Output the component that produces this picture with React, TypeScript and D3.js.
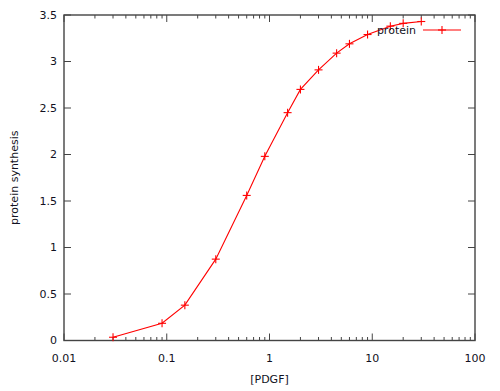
import React from "react";
import * as d3 from "d3";

// concentration of PDGF and measured protein synthesis
const pdgf = [0.03, 0.09, 0.15, 0.3, 0.6, 0.9, 1.5, 2, 3, 4.5, 6, 9, 15, 20, 30];
const protein = [0.035, 0.185, 0.38, 0.875, 1.56, 1.98, 2.45, 2.7, 2.91, 3.09, 3.19, 3.29, 3.38, 3.41, 3.43];
const xTickLabels = ["0.01", "0.1", "1", "10", "100"];
const yTickValues = [0, 0.5, 1, 1.5, 2, 2.5, 3, 3.5];

export default function App() {
	const width = 500;
	const height = 391;
	const marginLeft = 64;
	const marginRight = 25;
	const marginTop = 15;
	const marginBottom = 50.5;
	const font = "'DejaVu Sans', Verdana, sans-serif";
	const axisColor = "#444";
	const textColor = "#111122";

	const x = d3
		.scaleLog()
		.domain([0.01, 100])
		.range([marginLeft, width - marginRight]);

	const y = d3
		.scaleLinear()
		.domain([0, 3.5])
		.range([height - marginBottom, marginTop]);

	const line = d3
		.line<number>()
		.x((d, i) => x(pdgf[i]))
		.y((d) => y(d));

	// minor ticks 2..9 in each decade
	const minorTicks: number[] = [];
	for (let e = -2; e < 2; e++) {
		for (let m = 2; m <= 9; m++) minorTicks.push(m * Math.pow(10, e));
	}

	const x0 = marginLeft;
	const x1 = width - marginRight;
	const y0 = height - marginBottom;
	const y1 = marginTop;

	const cross = (cx: number, cy: number, key: string | number, s = 4) => (
		<g key={key}>
			<line x1={cx - s} x2={cx + s} y1={cy} y2={cy} />
			<line x1={cx} x2={cx} y1={cy - s} y2={cy + s} />
		</g>
	);

	return (
		<svg
			width={width}
			height={height}
			style={{ position: "absolute", left: 0, top: 0, background: "#fff" }}
			fontFamily={font}
			fontSize={11}
		>
			{/* ticks */}
			<g stroke={axisColor} strokeWidth={1}>
				{yTickValues.map((t) => (
					<g key={t}>
						<line x1={x0} x2={x0 + 7} y1={y(t)} y2={y(t)} />
						<line x1={x1} x2={x1 - 7} y1={y(t)} y2={y(t)} />
					</g>
				))}
				{xTickLabels.map((t) => (
					<g key={t}>
						<line x1={x(+t)} x2={x(+t)} y1={y0} y2={y0 - 7} />
						<line x1={x(+t)} x2={x(+t)} y1={y1} y2={y1 + 7} />
					</g>
				))}
				{minorTicks.map((t) => (
					<g key={t}>
						<line x1={x(t)} x2={x(t)} y1={y0} y2={y0 - 3.5} />
						<line x1={x(t)} x2={x(t)} y1={y1} y2={y1 + 3.5} />
					</g>
				))}
			</g>

			{/* border */}
			<rect
				x={x0}
				y={y1}
				width={x1 - x0}
				height={y0 - y1}
				fill="none"
				stroke={axisColor}
				strokeWidth={1.4}
			/>

			{/* tick labels */}
			<g fill={textColor}>
				{yTickValues.map((t) => (
					<text key={t} x={x0 - 7} y={y(t)} dy="0.35em" textAnchor="end">
						{t}
					</text>
				))}
				{xTickLabels.map((t) => (
					<text key={t} x={x(+t)} y={y0 + 21} textAnchor="middle">
						{t}
					</text>
				))}
				<text x={x(1)} y={height - 8} textAnchor="middle">
					[PDGF]
				</text>
				<text
					transform={`translate(18, ${(y0 + y1) / 2}) rotate(-90)`}
					textAnchor="middle"
				>
					protein synthesis
				</text>
			</g>

			{/* data */}
			<path d={line(protein) || undefined} fill="none" stroke="#ff0000" strokeWidth={1.1} />
			<g stroke="#ff0000" strokeWidth={1.1}>
				{protein.map((v, i) => cross(x(pdgf[i]), y(v), i))}
			</g>

			{/* legend */}
			<text x={416} y={30} dy="0.35em" textAnchor="end" fill={textColor}>
				protein
			</text>
			<g stroke="#ff0000" strokeWidth={1.1}>
				<line x1={423} x2={461} y1={30} y2={30} />
				{cross(442, 30, "legend")}
			</g>
		</svg>
	);
}
